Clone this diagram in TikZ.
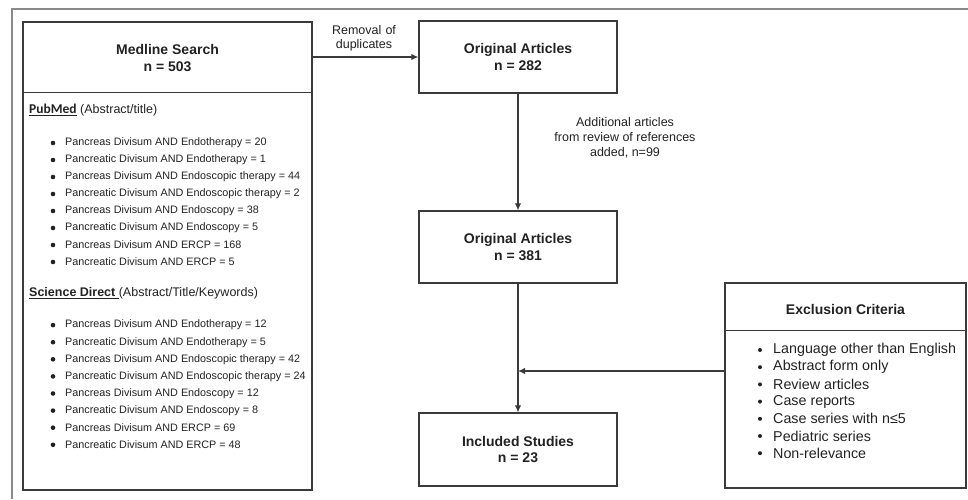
\documentclass[tikz,border=0pt]{standalone}
\usepackage{fontspec}
\setmainfont{Liberation Sans}
\newfontfamily\calibri{Carlito}
\usetikzlibrary{arrows.meta,positioning}

\definecolor{ink}{HTML}{222222}
\definecolor{boxline}{HTML}{3A3A3A}
\definecolor{framegray}{HTML}{8A8A8A}

\begin{document}
\begin{tikzpicture}[x=1pt, y=-1pt,
		box/.style={draw=boxline, line width=1.3pt, fill=white, minimum width=198pt, minimum height=72pt, align=center, text=ink, font=\fontsize{14}{16.5}\selectfont\bfseries},
		panel/.style={draw=boxline, line width=1.3pt, inner sep=0pt},
		title/.style={align=center, text=ink, font=\fontsize{14}{16.5}\selectfont\bfseries},
		note/.style={align=center, text=ink, font=\fontsize{12.5}{15}\selectfont},
		head/.style={anchor=west, inner sep=0pt, text=ink, font=\fontsize{12.5}{15}\selectfont},
		item/.style={anchor=west, inner sep=0pt, text=ink, font=\fontsize{10.8}{13}\selectfont},
		crit/.style={anchor=west, inner sep=0pt, text=ink, font=\fontsize{14.3}{17}\selectfont},
		arr/.style={draw=boxline, line width=1.2pt, -{Latex[length=7pt,width=6.5pt]}},
	]
		\useasboundingbox (0,0) rectangle (968,499);
		\draw[framegray, line width=1.5pt] (12,499) -- (12,9) -- (968,9);
		
		% search box
		\node (medline) [panel, minimum width=289pt, minimum height=468pt] at (167.5,256) {};
		\draw[boxline, line width=1.3pt] ([yshift=-71pt]medline.north west) -- ([yshift=-71pt]medline.north east);
		\node (medtitle) [title] at (167.5,58) {Medline Search\\n = 503};
		\node (pubmed) [head] at (29,110) {{\calibri\fontsize{13.5}{15}\selectfont\bfseries\underline{PubMed}} (Abstract/title)};
		\foreach \t [count=\i] in {Pancreas Divisum AND Endotherapy = 20, Pancreatic Divisum AND Endotherapy = 1, Pancreas Divisum AND Endoscopic therapy = 44, Pancreatic Divisum AND Endoscopic therapy = 2, Pancreas Divisum AND Endoscopy = 38, Pancreatic Divisum AND Endoscopy = 5, Pancreas Divisum AND ERCP = 168, Pancreatic Divisum AND ERCP = 5}{
			\fill[ink] (53,126+17*\i) circle (2.3);
			\node (pm\i) [item] at (65,126+17*\i) {\t};
		}
		\node (scidir) [head] at (29,293) {\textbf{\underline{Science Direct\ }}(Abstract/Title/Keywords)};
		\foreach \t [count=\i] in {Pancreas Divisum AND Endotherapy = 12, Pancreatic Divisum AND Endotherapy = 5, Pancreas Divisum AND Endoscopic therapy = 42, Pancreatic Divisum AND Endoscopic therapy = 24, Pancreas Divisum AND Endoscopy = 12, Pancreatic Divisum AND Endoscopy = 8, Pancreas Divisum AND ERCP = 69, Pancreatic Divisum AND ERCP = 48}{
			\fill[ink] (53,308+17.1*\i) circle (2.3);
			\node (sd\i) [item] at (65,308+17.1*\i) {\t};
		}
		
		% flow
		\node (orig1) [box] at (518,57) {Original Articles\\n = 282};
		\node (orig2) [box] at (518,247) {Original Articles\\n = 381};
		\node (incl) [box, minimum height=73pt] at (518,449.5) {Included Studies\\n = 23};
		
		\draw[arr] (medline.east |- orig1) -- (orig1);
		\node (dup) [note, text width=80pt, font=\fontsize{12.5}{13.5}\selectfont] at (364,38.5) {Removal of\\duplicates};
		
		\draw[arr] (orig1) -- (orig2);
		\node (added) [note] at (625,138) {Additional articles\\from review of references\\added, n=99};
		
		\draw[arr] (orig2) -- (incl);
		
		% exclusion box
		\node (excl) [panel, minimum width=241pt, minimum height=205pt] at (845.5,385.5) {};
		\draw[boxline, line width=1.3pt] ([yshift=-48pt]excl.north west) -- ([yshift=-48pt]excl.north east);
		\node (excltitle) [title] at (845.5,309) {Exclusion Criteria};
		\foreach \t [count=\i] in {Language other than English, Abstract form only, Review articles, Case reports, Case series with n≤5, Pediatric series, Non-relevance}{
			\fill[ink] (760,332.8+17.2*\i) circle (2);
			\node (ex\i) [crit] at (773,332.8+17.2*\i) {\t};
		}
		
		\coordinate (merge) at (orig2.south |- 0,371);
		\draw[arr] (excl.west |- merge) -- (merge);
	\end{tikzpicture}
\end{document}
